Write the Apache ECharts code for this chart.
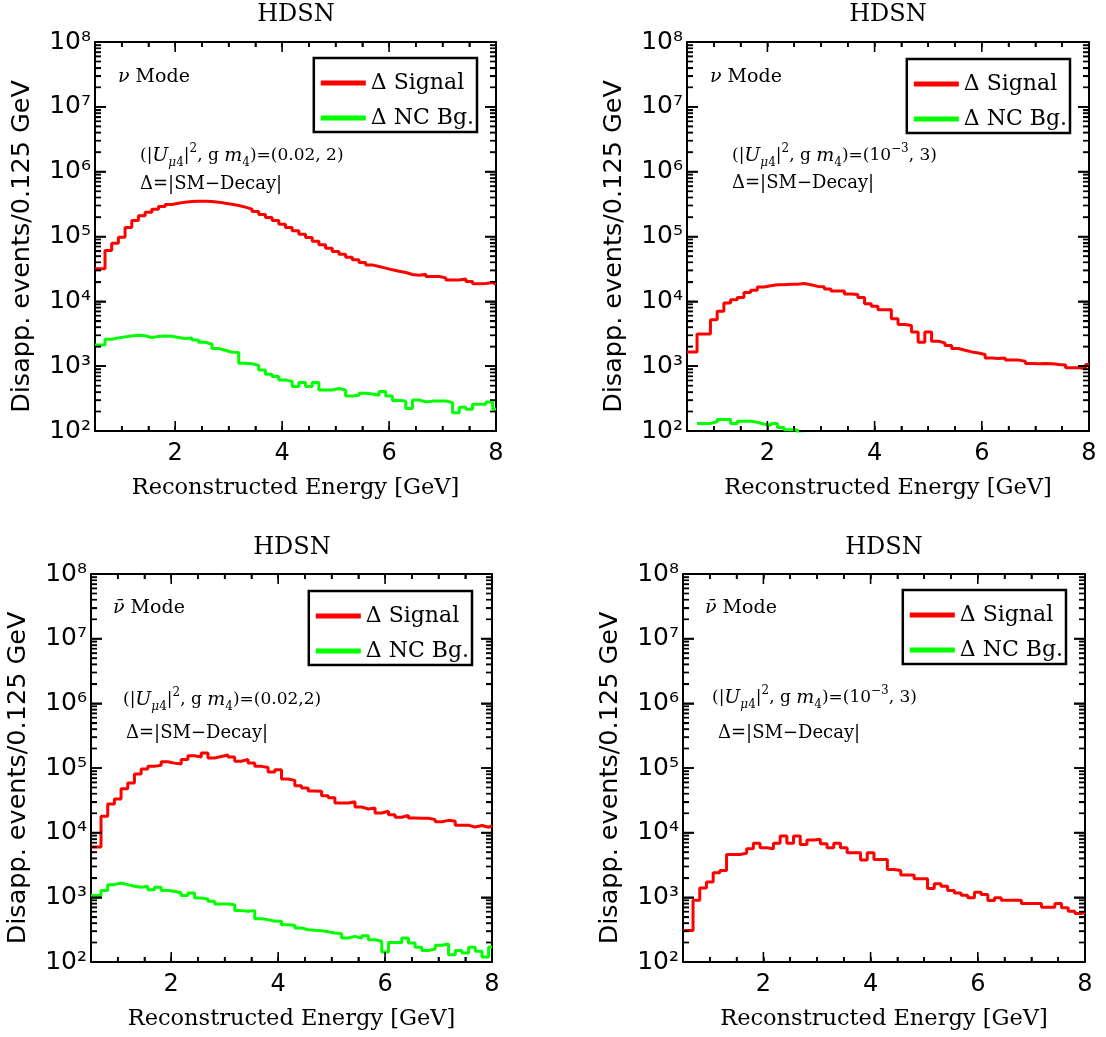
<!DOCTYPE html>
<html><head><meta charset="utf-8">
<script src="https://cdn.jsdelivr.net/npm/echarts@6/dist/echarts.min.js"></script>
<style>html,body{margin:0;padding:0;background:#fff}#c{width:1106px;height:1037px}</style>
</head><body><div id="c"></div>
<script>
// ---------------- data ----------------
const binStart = 0.5, binWidth = 0.125, xMax = 8;          // 60 bins of 0.125 GeV
const xTickLabels = [2, 4, 6, 8];
const xMinorTicks = [1, 1.5, 2.5, 3, 3.5, 4.5, 5, 5.5, 6.5, 7, 7.5];
const yMin = 1e2, yMax = 1e8;
const yTickLabels = [1e2, 1e3, 1e4, 1e5, 1e6, 1e7, 1e8];

// nu mode, (|U|^2, g m4) = (0.02, 2)
const nuA_signal = [31700, 60800, 78900, 97700, 137700, 176500, 208400, 237600, 264300, 290600,
  312000, 326700, 338800, 346700, 350900, 350900, 346700, 338800, 326700, 315200,
  300700, 283600, 264300, 243300, 218600, 196500, 176500, 155000, 137700, 122300,
  108700, 96500, 84800, 74400, 66000, 58700, 53400, 47900, 43600, 39700,
  36500, 34500, 32500, 30600, 29200, 27800, 25900, 25300, 26200, 24200,
  24200, 23000, 21400, 21400, 22200, 20200, 18600, 18800, 19500, 18400];
const nuA_ncBg = [2130, 2600, 2730, 2830, 2930, 3000, 2950, 2760, 2880, 2930,
  2900, 2760, 2670, 2730, 2540, 2340, 2180, 1870, 1760, 1640,
  1620, 1110, 1090, 1030, 875, 751, 692, 614, 579, 484,
  559, 484, 559, 430, 430, 451, 430, 348, 355, 382,
  373, 355, 406, 348, 295, 290, 222, 301, 281, 289,
  290, 290, 274, 192, 232, 216, 258, 258, 281, 216];

// nu mode, (1e-3, 3)
const nuB_signal = [1660, 3140, 3140, 5220, 7020, 9420, 10600, 11500, 13700, 14800,
  16600, 17400, 18000, 18000, 18300, 18300, 18900, 18000, 17000, 16800,
  15500, 14400, 14400, 13000, 12800, 11500, 9210, 8370, 7440, 7440,
  5410, 4380, 4230, 3380, 2340, 3380, 2420, 2290, 2080, 1870,
  1760, 1660, 1600, 1510, 1340, 1310, 1340, 1240, 1240, 1190,
  1100, 1090, 1100, 1090, 1060, 1040, 942, 942, 910, 1060];
const nuB_ncBg = [null, 131, 131, 139, 150, 150, 130, 141, 141, 136,
  128, 122, 131, 113, 105, 104, 90, null, null, null,
  null, null, null, null, null, null, null, null, null, null,
  null, null, null, null, null, null, null, null, null, null,
  null, null, null, null, null, null, null, null, null, null,
  null, null, null, null, null, null, null, null, null, null];

// anti-nu mode, (0.02, 2)
const nubarA_signal = [6000, 17900, 27700, 33200, 47900, 58600, 80800, 96600, 106000, 110000,
  125000, 119000, 115000, 135000, 155000, 148000, 171000, 143000, 151000, 159000,
  148000, 127000, 135000, 119000, 106000, 102000, 86700, 94200, 67600, 64400,
  53300, 49100, 44100, 43600, 37300, 34700, 28700, 28700, 30100, 24900,
  23200, 24100, 20100, 21400, 19000, 17300, 18500, 16900, 16700, 16700,
  15900, 14800, 15500, 15000, 13000, 13000, 12200, 12900, 12100, 12900];
const nubarA_ncBg = [1070, 1280, 1570, 1670, 1570, 1480, 1430, 1480, 1310, 1430,
  1280, 1240, 1170, 1070, 1170, 977, 942, 867, 789, 789,
  771, 623, 608, 623, 468, 452, 426, 426, 378, 369,
  336, 316, 309, 305, 294, 281, 274, 235, 249, 232,
  255, 221, 209, 143, 201, 201, 235, 197, 169, 151,
  159, 181, 190, 130, 151, 138, 169, 146, 119, 171];

// anti-nu mode, (1e-3, 3)
const nubarB_signal = [306, 904, 1400, 1720, 2400, 2610, 4610, 4610, 4790, 5650,
  6840, 5850, 5650, 6840, 8880, 6840, 8880, 6590, 7700, 7890,
  6750, 5850, 6840, 5850, 4900, 4900, 3770, 4900, 3860, 3860,
  2700, 2610, 2210, 2210, 1940, 1940, 1370, 1620, 1490, 1280,
  1170, 1080, 982, 1200, 1110, 893, 982, 904, 904, 904,
  801, 801, 801, 705, 705, 801, 688, 611, 561, 589];
const nubarB_ncBg = [];   // below 10^2 everywhere (not visible)

const titles = ['HDSN', 'HDSN', 'HDSN', 'HDSN'];
const modeLabels = ['{nu|ν} Mode', '{nu|ν} Mode', '{nu|ν̄} Mode', '{nu|ν̄} Mode'];
const paramLabels = [
  '(|{it|U}{subit|μ}{sub|4}|{sup|2}, g {it|m}{sub|4})=(0.02, 2)',
  '(|{it|U}{subit|μ}{sub|4}|{sup|2}, g {it|m}{sub|4})=(10{sup|−3}, 3)',
  '(|{it|U}{subit|μ}{sub|4}|{sup|2}, g {it|m}{sub|4})=(0.02,2)',
  '(|{it|U}{subit|μ}{sub|4}|{sup|2}, g {it|m}{sub|4})=(10{sup|−3}, 3)'
];
const deltaLabel = 'Δ=|SM−Decay|';
const legendNames = ['Δ Signal', 'Δ NC Bg.'];
const xName = 'Reconstructed Energy [GeV]';
const yName = 'Disapp. events/0.125 GeV';
const seriesData = [[nuA_signal, nuA_ncBg], [nuB_signal, nuB_ncBg], [nubarA_signal, nubarA_ncBg], [nubarB_signal, nubarB_ncBg]];

// ---------------- layout ----------------
const panels = [
  {grid: {left: 95, top: 42, width: 401, height: 389}, legend: {right: 629, top: 58}, title: [296, 15], mode: [118, 77], param: [140, 156], delta: [140, 184]},
  {grid: {left: 687, top: 42, width: 402, height: 389}, legend: {right: 36, top: 59}, title: [888, 15], mode: [710, 77], param: [732, 156], delta: [732, 183]},
  {grid: {left: 91, top: 574, width: 401, height: 388}, legend: {right: 634, top: 591}, title: [292, 548], mode: [113, 608], param: [123, 700], delta: [126, 733]},
  {grid: {left: 683, top: 574, width: 402, height: 388}, legend: {right: 40, top: 590}, title: [884, 548], mode: [705, 608], param: [712, 698], delta: [718, 733]}
];
const RED = '#ff0000', GREEN = '#00ff00', INK = '#000000';
const SERIF = 'DejaVu Serif', SANS = 'DejaVu Sans';
const SUPER = {'0': '⁰', '1': '¹', '2': '²', '3': '³', '4': '⁴', '5': '⁵', '6': '⁶', '7': '⁷', '8': '⁸', '9': '⁹', '-': '⁻'};

function stepPoints(values) {
  if (!values.length) return [];
  const pts = [[binStart, values[0]]];
  for (let k = 1; k < values.length; k++) pts.push([binStart + (k + 0.5) * binWidth, values[k]]);
  pts.push([xMax, values[values.length - 1]]);
  return pts;
}

const grids = [], xAxes = [], yAxes = [], series = [], legends = [], graphics = [];
panels.forEach((p, g) => {
  grids.push(Object.assign({show: false, containLabel: false}, p.grid));
  const xBase = () => ({gridIndex: g, type: 'value', min: binStart, max: xMax, interval: 0.5, splitLine: {show: false},
    axisLine: {show: true, onZero: false, lineStyle: {color: '#000', width: 2}},
    axisTick: {show: true, inside: true, length: 5, lineStyle: {color: INK, width: 1.5}}});
  xAxes.push(Object.assign(xBase(), {position: 'bottom',
    axisLabel: {show: true, customValues: xTickLabels, margin: 11, color: '#000', fontSize: 24, fontFamily: SANS},
    name: xName, nameLocation: 'middle', nameGap: 46,
    nameTextStyle: {color: '#000', fontSize: 22.5, fontFamily: SERIF}}));
  xAxes.push(Object.assign(xBase(), {position: 'top', axisLabel: {show: false}}));
  const yBase = () => ({gridIndex: g, type: 'log', logBase: 10, min: yMin, max: yMax, splitLine: {show: false},
    axisLine: {show: true, onZero: false, lineStyle: {color: '#000', width: 2}},
    axisTick: {show: true, inside: true, length: 11, lineStyle: {color: INK, width: 1.5}},
    minorTick: {show: true, splitNumber: 9, length: 6, lineStyle: {color: INK, width: 1.3}}});
  yAxes.push(Object.assign(yBase(), {position: 'left',
    axisLabel: {show: true, margin: 4, color: '#000', fontSize: 25, fontFamily: SANS,
      formatter: v => '10' + String(Math.round(Math.log10(v))).split('').map(c => SUPER[c]).join('')},
    name: yName, nameLocation: 'middle', nameGap: 60, nameRotate: 90,
    nameTextStyle: {color: '#000', fontSize: 25.5, fontFamily: SANS, padding: [0, 20, 0, 0]}}));
  yAxes.push(Object.assign(yBase(), {position: 'right', axisLabel: {show: false}}));

  [RED, GREEN].forEach((col, s) => {
    series.push({type: 'line', name: legendNames[s], xAxisIndex: 2 * g, yAxisIndex: 2 * g,
      data: stepPoints(seriesData[g][s]), step: 'end', symbol: 'none', showSymbol: false, clip: true,
      lineStyle: {color: col, width: 3}, itemStyle: {color: col}, animation: false});
  });

  legends.push({data: legendNames, orient: 'vertical', right: p.legend.right, top: p.legend.top,
    icon: 'rect', itemWidth: 45, itemHeight: 5, itemGap: 9, padding: [12, 3, 1, 7],
    borderColor: '#000', borderWidth: 2.5, borderRadius: 0, backgroundColor: '#fff', selectedMode: false,
    textStyle: {color: '#000', fontSize: 22, fontFamily: SERIF, lineHeight: 26}});

  graphics.push({type: 'text', x: p.title[0], y: p.title[1], z: 20,
    style: {text: titles[g], fill: '#000', fontSize: 24, fontFamily: SERIF, textAlign: 'center', textVerticalAlign: 'middle', verticalAlign: 'middle'}});
  graphics.push({type: 'text', x: p.mode[0], y: p.mode[1], z: 20,
    style: {text: modeLabels[g], fill: '#000', fontSize: 19, fontFamily: SERIF, textAlign: 'left', textVerticalAlign: 'middle', verticalAlign: 'middle',
      rich: {nu: {fontSize: 19, fontFamily: SERIF, fontStyle: 'italic', fill: '#000'}}}});
  graphics.push({type: 'text', x: p.param[0], y: p.param[1], z: 20,
    style: {text: paramLabels[g], fill: '#000', fontSize: 17, fontFamily: SERIF, lineHeight: 26, textAlign: 'left', textVerticalAlign: 'middle', verticalAlign: 'middle',
      rich: {
        it: {fontSize: 19, fontFamily: SERIF, fontStyle: 'italic', fill: '#000', lineHeight: 26},
        subit: {fontSize: 12, fontFamily: SERIF, fontStyle: 'italic', fill: '#000', verticalAlign: 'bottom', lineHeight: 14},
        sub: {fontSize: 12, fontFamily: SERIF, fill: '#000', verticalAlign: 'bottom', lineHeight: 14},
        sup: {fontSize: 12, fontFamily: SERIF, fill: '#000', verticalAlign: 'top', lineHeight: 14}
      }}});
  graphics.push({type: 'text', x: p.delta[0], y: p.delta[1], z: 20,
    style: {text: deltaLabel, fill: '#000', fontSize: 18, fontFamily: SERIF, textAlign: 'left', textVerticalAlign: 'middle', verticalAlign: 'middle'}});
});

const chart = echarts.init(document.getElementById('c'), null, {renderer: 'canvas', width: 1106, height: 1037});
chart.setOption({
  animation: false,
  grid: grids, xAxis: xAxes, yAxis: yAxes, series: series, legend: legends, graphic: graphics
});

// Inward tick marks as thin line segments in each panel's own coordinate system
// (end points found through the axes with convertToPixel / convertFromPixel).
const yMinorTicks = [];
for (let n = 2; n < 8; n++) for (let k = 2; k <= 9; k++) yMinorTicks.push(k * Math.pow(10, n));
const tickSeries = [];
panels.forEach((p, g) => {
  const finder = {xAxisIndex: 2 * g, yAxisIndex: 2 * g};
  const segs = [];
  const addX = (x, len) => {
    [[yMin, -1], [yMax, 1]].forEach(([y, dir]) => {
      const px = chart.convertToPixel(finder, [x, y]);
      const end = chart.convertFromPixel(finder, [px[0], px[1] + dir * len]);
      segs.push([x, y], [x, end[1]], null);
    });
  };
  const addY = (y, len) => {
    [[binStart, 1], [xMax, -1]].forEach(([x, dir]) => {
      const px = chart.convertToPixel(finder, [x, y]);
      const end = chart.convertFromPixel(finder, [px[0] + dir * len, px[1]]);
      segs.push([x, y], [end[0], y], null);
    });
  };
  xTickLabels.forEach(x => addX(x, 10));
  xMinorTicks.forEach(x => addX(x, 5));
  yTickLabels.forEach(y => addY(y, 11));
  yMinorTicks.forEach(y => addY(y, 6));
  tickSeries.push({type: 'line', xAxisIndex: 2 * g, yAxisIndex: 2 * g, data: segs, connectNulls: false,
    symbol: 'none', showSymbol: false, clip: false, z: 10, animation: false,
    lineStyle: {color: INK, width: 1.6}, itemStyle: {color: INK}, emphasis: {disabled: true}, tooltip: {show: false}});
});
chart.setOption({series: series.concat(tickSeries)});
</script></body></html>
